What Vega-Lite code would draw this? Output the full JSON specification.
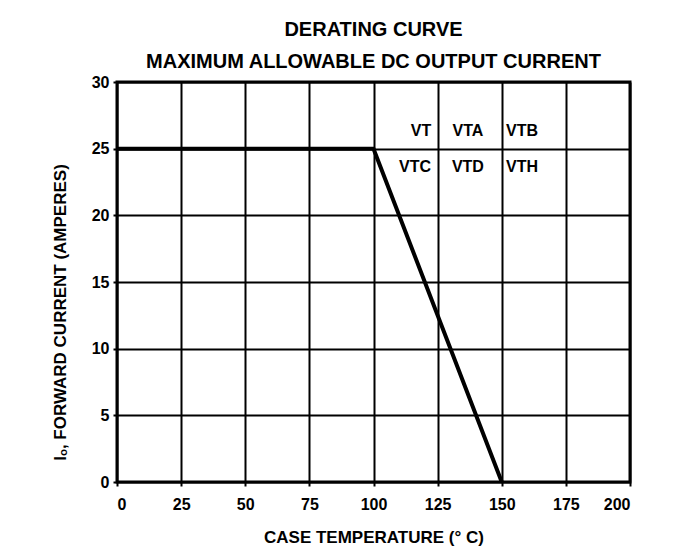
{
  "$schema": "https://vega.github.io/schema/vega-lite/v6.json",
  "autosize": "none",
  "width": 513,
  "height": 400,
  "padding": {"left": 117, "top": 82, "right": 50, "bottom": 74},
  "background": "white",
  "title": {
    "text": ["DERATING CURVE", "MAXIMUM ALLOWABLE DC OUTPUT CURRENT"],
    "font": "Liberation Sans",
    "fontSize": 20,
    "fontWeight": "bold",
    "lineHeight": 32,
    "color": "black",
    "anchor": "middle",
    "offset": 2
  },
  "config": {
    "view": {"stroke": "black", "strokeWidth": 3},
    "axis": {
      "labelFont": "Liberation Sans",
      "labelFontWeight": "bold",
      "labelFontSize": 16,
      "labelColor": "black",
      "titleFont": "Liberation Sans",
      "titleFontWeight": "bold",
      "titleFontSize": 17,
      "titleColor": "black",
      "gridColor": "black",
      "gridWidth": 2,
      "gridOpacity": 1,
      "domain": false,
      "tickColor": "black",
      "tickWidth": 2,
      "tickSize": 4
    }
  },
  "layer": [
    {
      "data": {"values": [
        {"temp": 0, "current": 25},
        {"temp": 100, "current": 25},
        {"temp": 150, "current": 0}
      ]},
      "mark": {"type": "line", "color": "black", "strokeWidth": 4},
      "encoding": {
        "x": {"field": "temp", "type": "quantitative", "scale": {"domain": [0, 200], "nice": false},
              "axis": {"title": "CASE TEMPERATURE (° C)", "values": [0,25,50,75,100,125,150,175,200], "labelPadding": 10, "titlePadding": 17}},
        "y": {"field": "current", "type": "quantitative", "scale": {"domain": [0, 30], "nice": false},
              "axis": {"title": "Iₒ, FORWARD CURRENT (AMPERES)", "values": [0,5,10,15,20,25,30], "labelPadding": 4, "titlePadding": 22, "titleY": 230}}
      }
    },
    {
      "data": {"values": [
        {"temp": 118.5, "current": 26.3, "label": "VT"},
        {"temp": 136.8, "current": 26.3, "label": "VTA"},
        {"temp": 157.9, "current": 26.3, "label": "VTB"},
        {"temp": 116.2, "current": 23.6, "label": "VTC"},
        {"temp": 136.8, "current": 23.6, "label": "VTD"},
        {"temp": 157.9, "current": 23.6, "label": "VTH"}
      ]},
      "mark": {"type": "text", "font": "Liberation Sans", "fontWeight": "bold", "fontSize": 16, "color": "black", "align": "center", "baseline": "middle"},
      "encoding": {
        "x": {"field": "temp", "type": "quantitative"},
        "y": {"field": "current", "type": "quantitative"},
        "text": {"field": "label"}
      }
    }
  ]
}
